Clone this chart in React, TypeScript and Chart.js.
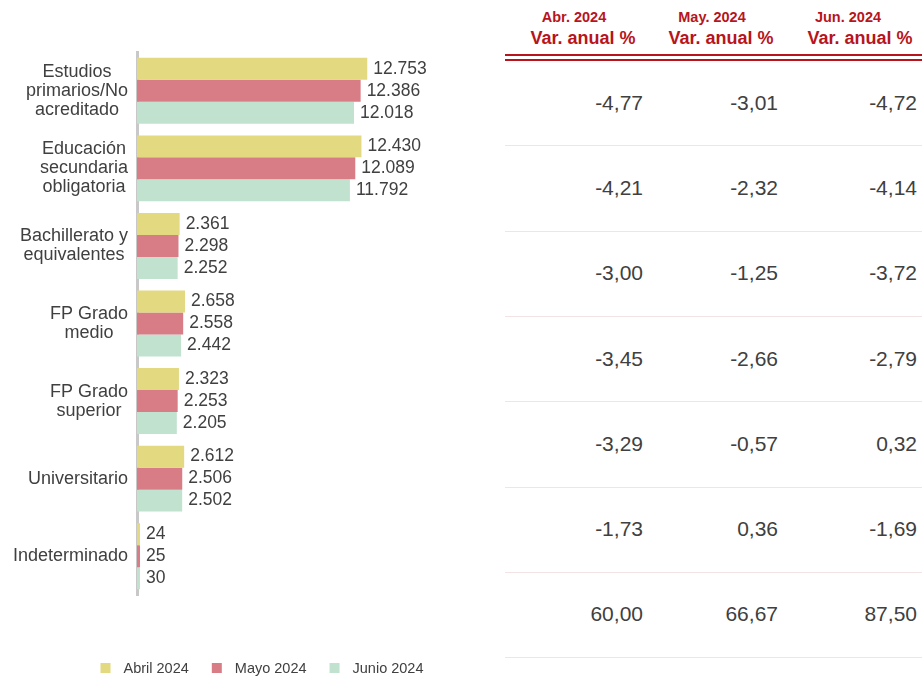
import React, { useEffect, useRef } from "react";
import { Chart, registerables } from "chart.js";

Chart.register(...registerables);

// ---------- data ----------
const CATEGORIES: (string | string[])[] = [
  ["Estudios", "primarios/No", "acreditado"],
  ["Educación", "secundaria", "obligatoria"],
  ["Bachillerato y", "equivalentes"],
  ["FP Grado", "medio"],
  ["FP Grado", "superior"],
  "Universitario",
  "Indeterminado",
];
const SERIES_LABELS = ["Abril 2024", "Mayo 2024", "Junio 2024"];
const ABRIL = [12753, 12430, 2361, 2658, 2323, 2612, 24];
const MAYO = [12386, 12089, 2298, 2558, 2253, 2506, 25];
const JUNIO = [12018, 11792, 2252, 2442, 2205, 2502, 30];

const TABLE_MONTHS = ["Abr. 2024", "May. 2024", "Jun. 2024"];
const TABLE_SUBHEADER = "Var. anual %";
const VAR_ABR = [-4.77, -4.21, -3.0, -3.45, -3.29, -1.73, 60.0];
const VAR_MAY = [-3.01, -2.32, -1.25, -2.66, -0.57, 0.36, 66.67];
const VAR_JUN = [-4.72, -4.14, -3.72, -2.79, 0.32, -1.69, 87.5];

// ---------- styles ----------
const COLORS = ["#E2D980", "#D87D86", "#C0E2CF"];
const TEXT = "#404040";
const RED = "#B8141C";
const FONT = '"Liberation Sans", Arial, sans-serif';

const fmtThousands = (v: number) =>
  String(Math.round(v)).replace(/\B(?=(\d{3})+(?!\d))/g, ".");
const fmtDecimal = (v: number) => v.toFixed(2).replace(".", ",");

const labelsPlugin = {
  id: "customLabels",
  afterDatasetsDraw(chart: any) {
    const ctx = chart.ctx as CanvasRenderingContext2D;
    ctx.save();
    // value labels
    ctx.font = `17.5px ${FONT}`;
    ctx.fillStyle = TEXT;
    ctx.textBaseline = "middle";
    ctx.textAlign = "left";
    chart.data.datasets.forEach((ds: any, i: number) => {
      const meta = chart.getDatasetMeta(i);
      meta.data.forEach((bar: any, j: number) => {
        ctx.fillText(fmtThousands(ds.data[j]), bar.x + 6, bar.y);
      });
    });
    // category labels
    const yScale = chart.scales.y;
    const right = chart.chartArea.left - 9;
    ctx.font = `18px ${FONT}`;
    ctx.textAlign = "center";
    (chart.data.labels as any[]).forEach((lab, i) => {
      const lines: string[] = Array.isArray(lab) ? lab : [lab];
      const w = Math.max(...lines.map((l) => ctx.measureText(l).width));
      const cx = right - w / 2;
      const cy = yScale.getPixelForValue(i);
      lines.forEach((l, k) =>
        ctx.fillText(l, cx, cy + (k - (lines.length - 1) / 2) * 19)
      );
    });
    // legend
    ctx.font = `14.5px ${FONT}`;
    ctx.textAlign = "left";
    const items = chart.data.datasets.map((ds: any) => ({
      text: ds.label,
      color: ds.backgroundColor,
      w: ctx.measureText(ds.label).width,
    }));
    const box = 10;
    const gapText = 13;
    const gapItem = 23;
    const total =
      items.reduce((s: number, it: any) => s + box + gapText + it.w, 0) +
      gapItem * (items.length - 1);
    let x = 262 - total / 2;
    const y = 668;
    items.forEach((it: any) => {
      ctx.fillStyle = it.color;
      ctx.fillRect(x, y - box / 2, box, box);
      ctx.fillStyle = TEXT;
      ctx.fillText(it.text, x + box + gapText, y + 1);
      x += box + gapText + it.w + gapItem;
    });
    ctx.restore();
  },
};

function BarChart() {
  const ref = useRef<HTMLCanvasElement | null>(null);
  useEffect(() => {
    if (!ref.current) return;
    const chart = new Chart(ref.current, {
      type: "bar",
      data: {
        labels: CATEGORIES as any,
        datasets: [ABRIL, MAYO, JUNIO].map((d, i) => ({
          label: SERIES_LABELS[i],
          data: d,
          backgroundColor: COLORS[i],
          borderWidth: 0,
          barPercentage: 1,
          categoryPercentage: 0.85,
          minBarLength: 3,
        })),
      },
      options: {
        indexAxis: "y",
        animation: false,
        responsive: false,
        maintainAspectRatio: false,
        layout: { padding: { top: 52, bottom: 84, left: 0, right: 18 } },
        plugins: {
          legend: { display: false },
          tooltip: { enabled: false },
        },
        scales: {
          x: { display: false, min: 0, max: 18000 },
          y: {
            grid: { display: false },
            ticks: { display: false },
            border: { display: true, color: "#C8C8C8", width: 3 },
            afterFit: (s: any) => {
              s.width = 137;
            },
          },
        },
      },
      plugins: [labelsPlugin],
    });
    return () => chart.destroy();
  }, []);
  return (
    <canvas
      ref={ref}
      width={480}
      height={679}
      style={{ position: "absolute", left: 0, top: 0, width: 480, height: 679 }}
    />
  );
}

const COL_RIGHT = [643, 778, 917];
const MONTH_CENTER = [574, 712, 848];
const SUB_CENTER = [583, 721, 860];
const ROW_TOP = 60;
const ROW_H = 85.3;

function Table() {
  const cols = [VAR_ABR, VAR_MAY, VAR_JUN];
  const nRows = VAR_ABR.length;
  return (
    <div style={{ position: "absolute", left: 0, top: 0, width: 922, height: 679, fontFamily: FONT }}>
      {TABLE_MONTHS.map((m, i) => (
        <React.Fragment key={m}>
          <div
            style={{
              position: "absolute", left: MONTH_CENTER[i] - 80, width: 160, top: 8, height: 18,
              lineHeight: "18px", textAlign: "center", fontWeight: "bold", fontSize: 14.5, color: RED,
            }}
          >
            {m}
          </div>
          <div
            style={{
              position: "absolute", left: SUB_CENTER[i] - 80, width: 160, top: 27, height: 22,
              lineHeight: "22px", textAlign: "center", fontWeight: "bold", fontSize: 18, color: RED,
            }}
          >
            {TABLE_SUBHEADER}
          </div>
        </React.Fragment>
      ))}
      <div style={{ position: "absolute", left: 505, width: 417, top: 53.5, height: 2.5, background: RED }} />
      <div style={{ position: "absolute", left: 505, width: 417, top: 58.5, height: 2.5, background: RED }} />
      {Array.from({ length: nRows }).map((_, r) => (
        <React.Fragment key={r}>
          {cols.map((c, k) => (
            <div
              key={k}
              style={{
                position: "absolute", right: 922 - COL_RIGHT[k], width: 120,
                top: ROW_TOP + r * ROW_H + ROW_H / 2 - 13, height: 26, lineHeight: "26px",
                textAlign: "right", fontSize: 21, color: TEXT,
              }}
            >
              {fmtDecimal(c[r])}
            </div>
          ))}
          <div
            style={{
              position: "absolute", left: 505, width: 417,
              top: Math.round(ROW_TOP + (r + 1) * ROW_H), height: 1, background: "#F2E4E4",
            }}
          />
        </React.Fragment>
      ))}
    </div>
  );
}

export default function App() {
  return (
    <div style={{ position: "absolute", left: 0, top: 0, width: 922, height: 679, background: "#fff", overflow: "hidden" }}>
      <Table />
      <BarChart />
    </div>
  );
}
